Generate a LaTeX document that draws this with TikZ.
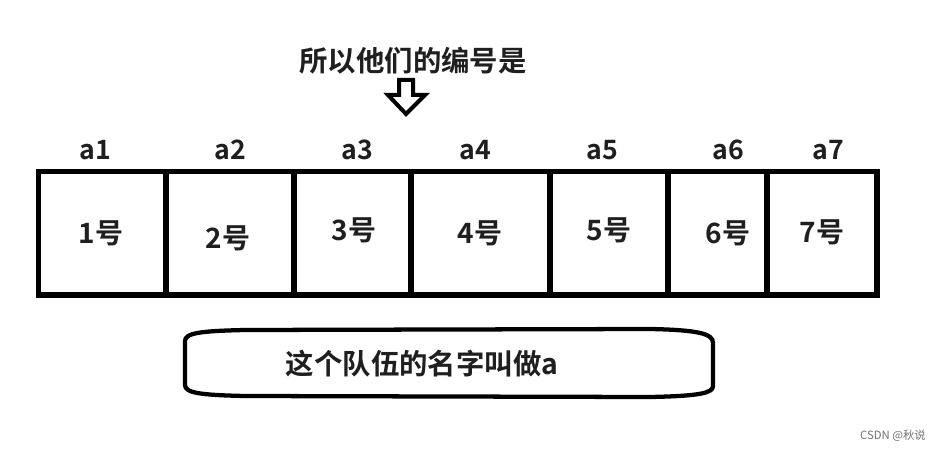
\documentclass[tikz,border=0pt]{standalone}
\usepackage{fontspec}
\setmainfont{Noto Sans CJK SC}[BoldFont={Noto Sans CJK SC Bold}]
\begin{document}
\begin{tikzpicture}[x=0.75pt,y=-0.75pt,
  cellline/.style={line width=3.8pt,line join=miter},
  toplabel/.style={font=\fontsize{20}{24}\selectfont\bfseries,text=black!88,inner sep=0pt},
  cellnum/.style={font=\fontsize{21}{25}\selectfont\bfseries,text=black!88,inner sep=0pt},
  bigtext/.style={font=\fontsize{21.3}{25}\selectfont\bfseries,text=black!88,inner sep=0pt},
  wmark/.style={font=\fontsize{8.5}{10}\selectfont,text=black!55,inner sep=0pt}]
\useasboundingbox[fill=white] (0,0) rectangle (941,452);
% title and arrow
\node[bigtext] (title) at (413,61) {所以他们的编号是};
\draw[line width=3pt,line join=miter,fill=white]
  (399,80) -- (413,80) -- (413,95) -- (425,95) -- (406,114) -- (388,95) -- (399,95) -- cycle;
% cells
\draw[cellline] (38.5,171.5) rectangle (877,295);
\foreach \x in {166,294,411,550,668,767}{
  \draw[cellline] (\x,171.5) -- (\x,295);
}
% top labels
\node[toplabel] (a1) at (95,150) {a1};
\node[toplabel] (a2) at (230,150) {a2};
\node[toplabel] (a3) at (357,150) {a3};
\node[toplabel] (a4) at (475,150) {a4};
\node[toplabel] (a5) at (602,150) {a5};
\node[toplabel] (a6) at (728,150) {a6};
\node[toplabel] (a7) at (828,150) {a7};
% cell contents
\node[cellnum] (n1) at (101,233) {1号};
\node[cellnum] (n2) at (228,238) {2号};
\node[cellnum] (n3) at (354,230) {3号};
\node[cellnum] (n4) at (480,233) {4号};
\node[cellnum] (n5) at (609,230) {5号};
\node[cellnum] (n6) at (728,233) {6号};
\node[cellnum] (n7) at (822,232) {7号};
% bottom banner
\draw[line width=3.2pt,line join=round]
  (185,341) .. controls (185,333) and (200,331) .. (245,330) -- (650,329)
  .. controls (700,330) and (713,334) .. (713,343) -- (713,386)
  .. controls (713,393) and (700,396) .. (650,397) -- (245,396)
  .. controls (200,395) and (185,393) .. (185,385) -- cycle;
\node[bigtext] (name) at (422,364) {这个队伍的名字叫做a};
% watermark
\node[wmark] (wm) at (893,436) {CSDN @秋说};
\end{tikzpicture}
\end{document}
